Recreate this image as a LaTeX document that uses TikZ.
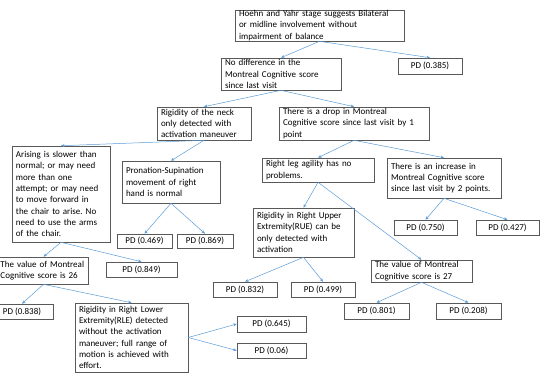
\documentclass[tikz,border=0pt]{standalone}
\usepackage{fontspec}
\setmainfont{Carlito}
\usetikzlibrary{arrows.meta}
\definecolor{linkblue}{HTML}{5B9BD5}
\definecolor{boxgray}{HTML}{595959}
\begin{document}
\begin{tikzpicture}
    [x=1pt, y=-1pt,
    TextNode/.style={rectangle, draw=boxgray, line width=0.6pt, inner xsep=4pt, inner ysep=0pt,
        align=left, font=\fontsize{9}{11.3}\selectfont\frenchspacing},
    LeafNode/.style={rectangle, draw=boxgray, line width=0.6pt, inner sep=0pt,
        font=\fontsize{9}{11.3}\selectfont},
    Link/.style={draw=linkblue, line width=0.5pt, -{Stealth[length=3.5pt,width=3pt]}}]
     \useasboundingbox (0,0) rectangle (540,373);
     \node[TextNode, text width=161pt, minimum height=31pt] (n0) at (319.5,25.5)
        {Hoehn and Yahr stage suggests Bilateral\\or midline involvement without\\impairment of balance};
     \node[LeafNode, minimum width=64pt, minimum height=16pt] (n1) at (430,66){PD (0.385)};
     \node[TextNode, text width=112pt, minimum height=32pt] (n2) at (281,74)
        {No difference in the\\Montreal Cognitive score\\since last visit};
     \node[TextNode, text width=86pt, minimum height=33pt] (n3) at (204,123.5)
        {Rigidity of the neck\\only detected with\\activation maneuver};
     \node[TextNode, text width=142pt, minimum height=33pt] (n4) at (354,123.5)
        {There is a drop in Montreal\\Cognitive score since last visit by 1\\point};
     \node[TextNode, text width=90pt, minimum height=96pt] (n5) at (61,194)
        {Arising is slower than\\normal; or may need\\more than one\\attempt; or may need\\to move forward in\\the chair to arise. No\\need to use the arms\\of the chair.};
     \node[TextNode, text width=90pt, minimum height=42pt] (n6) at (171,182)
        {Pronation-Supination\\movement of right\\hand is normal};
     \node[TextNode, text width=104pt, minimum height=24pt] (n7) at (318,170)
        {Right leg agility has no\\problems.};
     \node[TextNode, text width=106pt, minimum height=40pt] (n8) at (444,178)
        {There is an increase in\\Montreal Cognitive score\\since last visit by 2 points.};
     \node[LeafNode, minimum width=55pt, minimum height=14pt] (n9) at (144.5,241){PD (0.469)};
     \node[LeafNode, minimum width=56pt, minimum height=14pt] (n10) at (205,241){PD (0.869)};
     \node[TextNode, text width=93pt, minimum height=49pt] (n11) at (303.5,232.5)
        {Rigidity in Right Upper\\Extremity(RUE) can be\\only detected with\\activation};
     \node[LeafNode, minimum width=63pt, minimum height=15pt] (n12) at (425.5,227.5){PD (0.750)};
     \node[LeafNode, minimum width=63pt, minimum height=15pt] (n13) at (507.5,227.5){PD (0.427)};
     \node[TextNode, inner xsep=1.5pt, text width=86pt, minimum height=27pt] (n14) at (43.5,270.5)
        {The value of Montreal\\Cognitive score is 26};
     \node[LeafNode, minimum width=71pt, minimum height=15pt] (n15) at (141.5,269.5){PD (0.849)};
     \node[LeafNode, minimum width=64pt, minimum height=15pt] (n16) at (245,289.5){PD (0.832)};
     \node[LeafNode, minimum width=64pt, minimum height=15pt] (n17) at (323,289.5){PD (0.499)};
     \node[TextNode, text width=93pt, minimum height=22pt] (n18) at (421.5,271)
        {The value of Montreal\\Cognitive score is 27};
     \node[LeafNode, minimum width=62pt, minimum height=15pt] (n19) at (22,311.5){PD (0.838)};
     \node[TextNode, text width=105pt, minimum height=69pt] (n20) at (131.5,337.5)
        {Rigidity in Right Lower\\Extremity(RLE) detected\\without the activation\\maneuver; full range of\\motion is achieved with\\effort.};
     \node[LeafNode, minimum width=65pt, minimum height=16pt] (n21) at (376.5,311){PD (0.801)};
     \node[LeafNode, minimum width=65pt, minimum height=16pt] (n22) at (468.5,311){PD (0.208)};
     \node[LeafNode, minimum width=69pt, minimum height=16pt] (n23) at (271.5,324){PD (0.645)};
     \node[LeafNode, minimum width=69pt, minimum height=15pt] (n24) at (271.5,350.5){PD (0.06)};
     \draw[Link] (n0.south) -- (n2.north);
     \draw[Link] (n0.south) -- (n1.north);
     \draw[Link] (n2.south) -- (n3.north);
     \draw[Link] (n2.south) -- (n4.north);
     \draw[Link] (n3.south) -- (n5.north);
     \draw[Link] (n3.south) -- (n6.north);
     \draw[Link] (n4.south) -- (n7.north);
     \draw[Link] (n4.south) -- (n8.north);
     \draw[Link] (n6.south) -- (n9.north);
     \draw[Link] (n6.south) -- (n10.north);
     \draw[Link] (n7.south) -- (n11.north);
     \draw[Link] (n7.south) -- (n18.north);
     \draw[Link] (n8.south) -- (n12.north);
     \draw[Link] (n8.south) -- (n13.north);
     \draw[Link] (n5.south) -- (n14.north);
     \draw[Link] (n5.south) -- (n15.north);
     \draw[Link] (n11.south) -- (n16.north);
     \draw[Link] (n11.south) -- (n17.north);
     \draw[Link] (n18.south) -- (n21.north);
     \draw[Link] (n18.south) -- (n22.north);
     \draw[Link] (n14.south) -- (n19.north);
     \draw[Link] (n14.south) -- (n20.north);
     \draw[Link] (n20.east) -- (n23.west);
     \draw[Link] (n20.east) -- (n24.west);
\end{tikzpicture}
\end{document}
